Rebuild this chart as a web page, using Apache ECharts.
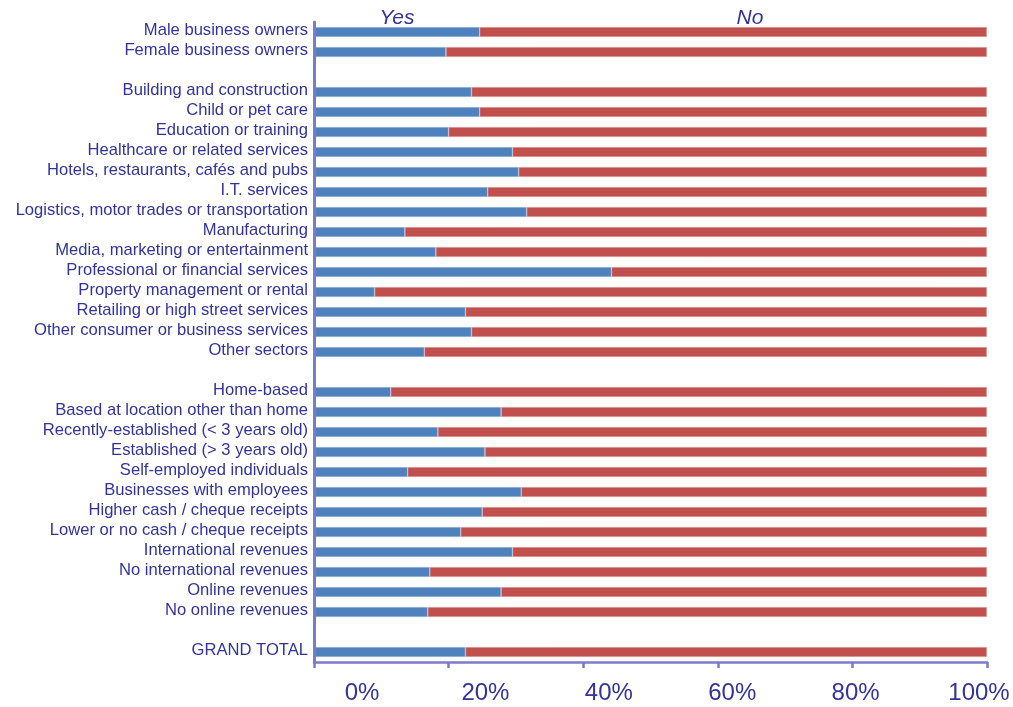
<!DOCTYPE html>
<html>
<head>
<meta charset="utf-8">
<script src="https://cdn.jsdelivr.net/npm/echarts@6/dist/echarts.min.js"></script>
<style>
html,body{margin:0;padding:0;background:#fff;}
#chart{width:1013px;height:707px;}
</style>
</head>
<body>
<div id="chart"></div>
<script>
var categories = [
  'Male business owners','Female business owners','',
  'Building and construction','Child or pet care','Education or training',
  'Healthcare or related services','Hotels, restaurants, cafés and pubs','I.T. services',
  'Logistics, motor trades or transportation','Manufacturing','Media, marketing or entertainment',
  'Professional or financial services','Property management or rental','Retailing or high street services',
  'Other consumer or business services','Other sectors',' ',
  'Home-based','Based at location other than home','Recently-established (< 3 years old)',
  'Established (> 3 years old)','Self-employed individuals','Businesses with employees',
  'Higher cash / cheque receipts','Lower or no cash / cheque receipts','International revenues',
  'No international revenues','Online revenues','No online revenues','  ',
  'GRAND TOTAL'
];
var seriesNames = ['Yes', 'No'];
var yesValues = [24.6,19.6,null,23.4,24.6,20.0,29.5,30.4,25.8,31.6,13.5,18.1,44.2,9.0,22.5,23.4,16.4,null,
  11.4,27.8,18.4,25.4,13.9,30.8,25.0,21.8,29.5,17.2,27.8,16.9,null,22.5];
var noValues = [75.4,80.4,null,76.6,75.4,80.0,70.5,69.6,74.2,68.4,86.5,81.9,55.8,91.0,77.5,76.6,83.6,null,
  88.6,72.2,81.6,74.6,86.1,69.2,75.0,78.2,70.5,82.8,72.2,83.1,null,77.5];
var tickLabels = ['0%','20%','40%','60%','80%','100%'];

var textColor = '#333399';
var axisColor = '#7B7BCB';
var fontFam = '"Liberation Sans", Arial, sans-serif';
var headerFont = 'italic 21px "Liberation Sans", Arial, sans-serif';

var chart = echarts.init(document.getElementById('chart'), null, {renderer:'canvas'});
chart.setOption({
  animation: false,
  backgroundColor: '#ffffff',
  grid: [
    {left: 314, right: 26, top: 22, bottom: 45, containLabel: false},
    {left: 362, right: 34, top: 22, bottom: 45, containLabel: false}
  ],
  xAxis: [
    {
      type: 'value', gridIndex: 0, min: 0, max: 100, interval: 20,
      axisLine: {show: true, lineStyle: {color: axisColor, width: 2.5}},
      axisTick: {show: true, length: 6, lineStyle: {color: axisColor, width: 2.5}},
      axisLabel: {show: false},
      splitLine: {show: false}
    },
    {
      type: 'value', gridIndex: 1, min: 0, max: 100, interval: 20,
      axisLine: {show: false}, axisTick: {show: false}, splitLine: {show: false},
      axisLabel: {
        show: true, margin: 19, color: textColor, fontSize: 24, fontFamily: fontFam,
        formatter: function (v) { return tickLabels[Math.round(v / 20)]; }
      }
    }
  ],
  yAxis: [
    {
      type: 'category', gridIndex: 0, inverse: true, data: categories, z: 5,
      axisLine: {show: true, lineStyle: {color: axisColor, width: 3}},
      axisTick: {show: false},
      axisLabel: {
        margin: 6, interval: 0,
        formatter: function (v) { return '{l|' + v + '}'; },
        rich: {l: {color: textColor, fontSize: 16.6, fontFamily: fontFam, padding: [0, 0, 4, 0]}}
      },
      splitLine: {show: false}
    },
    {type: 'value', gridIndex: 1, show: false, min: 0, max: 1}
  ],
  graphic: [
    {type: 'text', x: 397, y: 18, style: {text: seriesNames[0], fill: textColor, font: headerFont, align: 'center', verticalAlign: 'middle'}},
    {type: 'text', x: 750, y: 18, style: {text: seriesNames[1], fill: textColor, font: headerFont, align: 'center', verticalAlign: 'middle'}}
  ],
  series: [
    {
      name: seriesNames[0], type: 'bar', stack: 'total', xAxisIndex: 0, yAxisIndex: 0,
      barWidth: 10, data: yesValues,
      itemStyle: {color: '#4F81BD', borderColor: 'rgba(170,195,230,0.9)', borderWidth: 0.6}
    },
    {
      name: seriesNames[1], type: 'bar', stack: 'total', xAxisIndex: 0, yAxisIndex: 0,
      barWidth: 10, data: noValues,
      itemStyle: {color: '#C0504D', borderColor: 'rgba(235,180,180,0.9)', borderWidth: 0.6}
    }
  ]
});
</script>
</body>
</html>
